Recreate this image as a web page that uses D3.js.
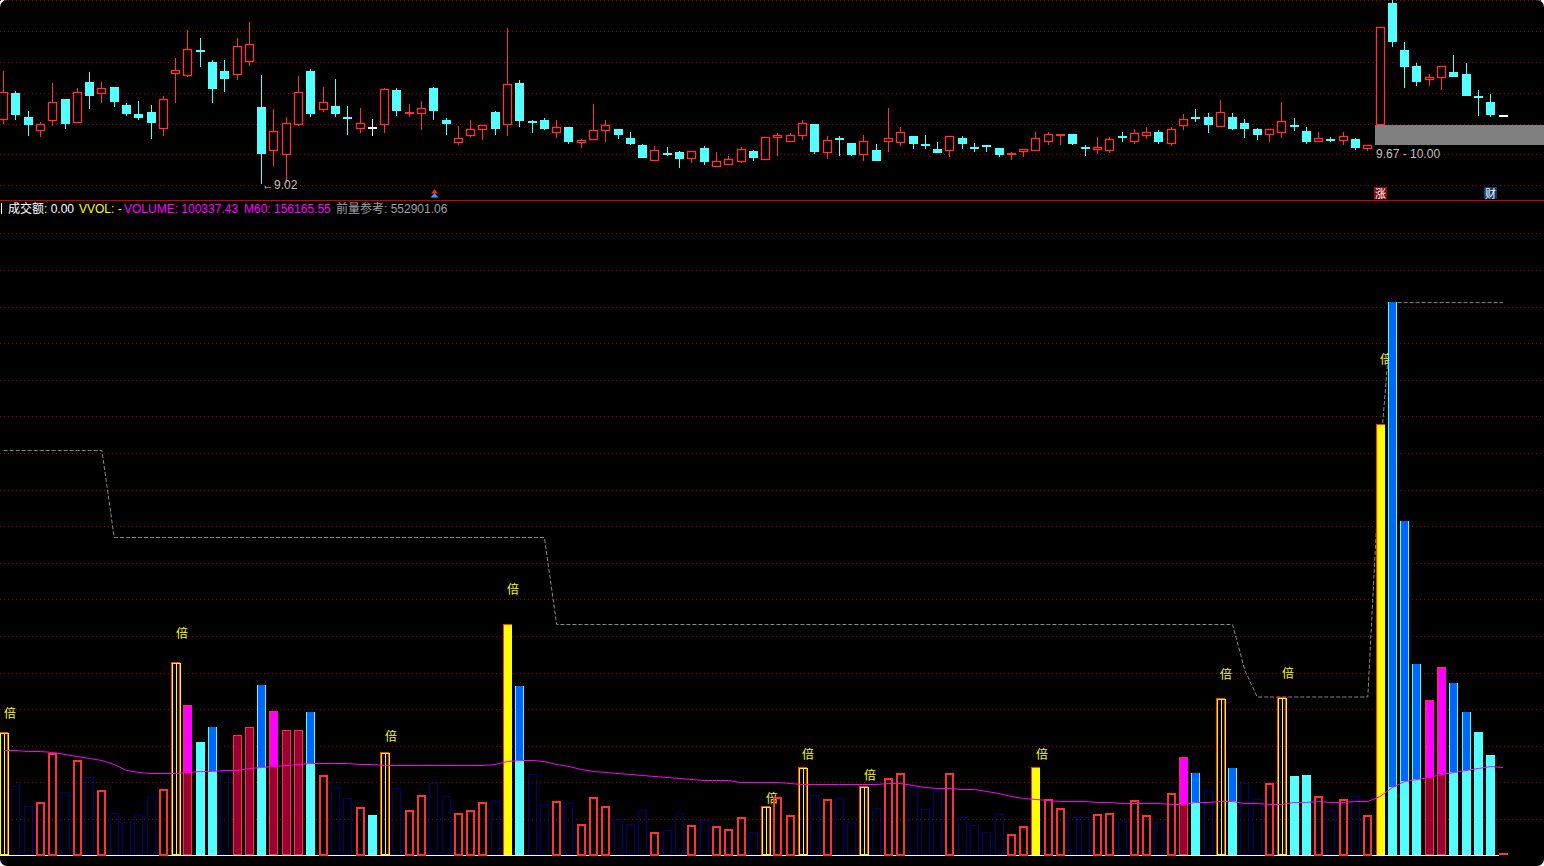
<!DOCTYPE html>
<html><head><meta charset="utf-8">
<script src="https://cdn.jsdelivr.net/npm/d3@7"></script>
<style>
html,body{margin:0;padding:0;background:#fff;overflow:hidden}
svg{display:block}
text{font-family:"Liberation Sans","Noto Sans CJK SC",sans-serif}
</style></head><body>
<svg id="c" width="1544" height="866"></svg>
<script>
// ---------- DATA ----------
const opens = [10.08,10.53,10.13,9.90,10.07,10.44,10.04,10.71,10.51,10.63,
10.34,10.18,10.22,9.93,10.84,10.82,11.25,11.05,10.89,10.83,
11.05,10.30,9.56,9.51,10.00,10.90,10.25,10.31,10.13,9.93,
9.96,10.00,10.58,10.18,10.18,10.61,10.08,9.70,9.81,9.92,
10.22,10.00,10.70,10.07,10.08,9.86,9.97,9.70,9.75,9.90,
9.93,9.78,9.67,9.40,9.54,9.55,9.43,9.62,9.30,9.34,
9.39,9.57,9.42,9.78,9.72,9.81,10.02,9.54,9.79,9.70,
9.51,9.58,9.72,9.70,9.82,9.69,9.60,9.57,9.78,9.64,
9.66,9.62,9.51,9.55,9.57,9.72,9.81,9.85,9.64,9.59,
9.57,9.81,9.72,9.82,9.88,9.68,9.99,10.14,10.13,9.96,
10.13,10.03,9.94,9.84,9.86,10.00,9.90,9.71,9.77,9.74,
9.77,9.60,10.00,12.03,11.25,10.98,10.74,10.78,10.88,10.85,
10.48,10.38,10.17];
const highs = [10.90,10.57,10.23,10.05,10.69,10.44,10.61,10.88,10.71,10.63,
10.36,10.40,10.33,10.49,11.12,11.58,11.45,11.08,11.08,11.45,
11.71,10.83,10.27,10.13,10.81,10.93,10.63,10.76,10.32,10.28,
10.10,10.61,10.61,10.35,10.40,10.63,10.12,9.98,10.08,10.00,
10.23,11.61,10.75,10.08,10.12,10.08,9.97,9.76,10.35,10.08,
9.93,9.88,9.68,9.65,9.63,9.57,9.57,9.65,9.55,9.49,
9.64,9.58,9.80,9.87,9.87,10.08,10.02,9.81,9.81,9.70,
9.83,9.68,10.29,9.97,9.82,9.83,9.72,9.81,9.81,9.70,
9.67,9.62,9.55,9.60,9.88,9.88,9.85,9.85,9.67,9.80,
9.80,9.88,9.94,9.97,9.91,9.97,10.18,10.27,10.20,10.42,
10.20,10.10,9.95,9.93,10.38,10.12,9.97,9.88,9.80,9.88,
9.79,9.67,11.63,12.12,11.38,11.03,10.85,10.98,11.16,11.03,
10.58,10.51,10.17];
const lows = [10.02,10.09,9.82,9.80,9.98,9.93,10.04,10.27,10.36,10.30,
10.15,10.09,9.77,9.81,10.37,10.79,10.97,10.37,10.55,10.75,
10.98,9.02,9.32,9.04,9.98,10.14,10.22,10.13,9.84,9.87,
9.81,9.87,10.15,10.14,9.92,10.09,9.83,9.67,9.80,9.75,
9.83,9.82,9.97,9.87,9.92,9.79,9.68,9.61,9.75,9.72,
9.77,9.67,9.46,9.40,9.49,9.29,9.37,9.34,9.30,9.34,
9.37,9.40,9.42,9.49,9.72,9.75,9.52,9.44,9.49,9.49,
9.40,9.40,9.55,9.65,9.60,9.60,9.53,9.47,9.60,9.55,
9.55,9.47,9.42,9.47,9.56,9.66,9.66,9.66,9.49,9.52,
9.54,9.71,9.69,9.77,9.68,9.65,9.92,10.05,9.87,9.96,
9.92,9.79,9.75,9.71,9.78,9.90,9.68,9.71,9.71,9.66,
9.58,9.56,10.00,11.30,10.61,10.65,10.65,10.58,10.80,10.49,
10.15,10.14,10.17];
const closes = [10.54,10.17,10.00,10.02,10.39,10.02,10.54,10.48,10.62,10.39,
10.19,10.12,10.04,10.44,10.91,11.26,11.22,10.59,10.77,11.31,
11.35,9.52,9.90,10.03,10.54,10.18,10.39,10.18,10.10,10.03,
9.96,10.59,10.24,10.22,10.28,10.24,10.01,9.78,9.94,10.00,
9.93,10.68,10.07,10.03,9.94,9.96,9.71,9.75,9.92,10.00,
9.84,9.68,9.46,9.59,9.53,9.44,9.57,9.39,9.40,9.44,
9.60,9.46,9.80,9.84,9.83,10.03,9.55,9.75,9.76,9.50,
9.73,9.40,9.78,9.88,9.68,9.66,9.53,9.81,9.68,9.62,
9.63,9.50,9.53,9.60,9.78,9.85,9.85,9.68,9.61,9.63,
9.76,9.78,9.87,9.88,9.71,9.93,10.10,10.12,10.00,10.22,
9.93,9.94,9.84,9.93,10.06,9.96,9.72,9.79,9.75,9.82,
9.61,9.66,11.63,11.38,10.97,10.72,10.79,10.98,10.80,10.49,
10.46,10.17,10.17];
const volumes = [123000,69000,49000,53000,102000,63000,95000,78000,65000,42000,
33000,40000,58000,66000,193000,150000,113000,128000,84000,120000,
128000,170000,144000,125000,125000,143000,80000,68000,57000,48000,
40000,103000,67000,45000,60000,72000,59000,42000,45000,53000,
54000,231000,169000,81000,51000,54000,52000,31000,58000,49000,
36000,31000,45000,23000,25000,42000,30000,35000,29000,26000,
38000,23000,49000,58000,40000,88000,60000,56000,57000,33000,
69000,47000,77000,82000,68000,46000,64000,82000,38000,30000,
23000,41000,21000,29000,88000,56000,47000,38000,38000,41000,
42000,34000,55000,40000,33000,62000,98000,82000,65000,157000,
87000,72000,56000,72000,158500,79000,80000,59000,44000,56000,
59000,40000,431000,552901,334000,191000,155000,188000,172000,143000,
123000,100337,2000];
const ma60 = [106000,105500,105000,104500,103000,102000,100000,98000,95500,92000,
86000,84000,82500,82500,83000,84000,84500,84500,85500,86000,
87000,88500,90000,91000,92000,92500,93000,93000,93000,92000,
91500,91000,91000,91000,91000,91000,91000,91000,91000,91000,
91500,94500,95500,95700,95000,92000,89300,86700,84500,83500,
82700,82000,81000,80000,79000,77500,76500,75700,75700,75500,
74000,73700,73700,73500,72700,72000,72000,72000,72000,72000,
72000,72000,72700,72500,71000,69000,68000,67700,66700,66500,
64700,62700,59500,58000,57000,55700,54700,54700,54700,53700,
53700,52700,52700,52700,52700,52000,52000,53700,53700,55000,
55000,53000,53000,51700,51700,53700,53700,54500,54000,53700,
54700,54700,60000,68300,74700,76700,79000,82000,84000,86000,
88000,89300,88700];
const refVol = [405000,405000,405000,405000,405000,405000,405000,405000,405000,318000,
318000,318000,318000,318000,318000,318000,318000,318000,318000,318000,
318000,318000,318000,318000,318000,318000,318000,318000,318000,318000,
318000,318000,318000,318000,318000,318000,318000,318000,318000,318000,
318000,318000,318000,318000,318000,231000,231000,231000,231000,231000,
231000,231000,231000,231000,231000,231000,231000,231000,231000,231000,
231000,231000,231000,231000,231000,231000,231000,231000,231000,231000,
231000,231000,231000,231000,231000,231000,231000,231000,231000,231000,
231000,231000,231000,231000,231000,231000,231000,231000,231000,231000,
231000,231000,231000,231000,231000,231000,231000,231000,231000,231000,
231000,185000,158500,158500,158500,158500,158500,158500,158500,158500,
158500,158500,400000,552901,552901,552901,552901,552901,552901,552901,
552901,552901,552901];
// volume signal: n = normal, s = strong, d = double volume, D = double volume (strong)
const volSignal = ("dnnnnnnnnn"+"nnnndsssns"+"ssssssnnnn"+"sdnnnnnnnn"+"nDsnnnnnnn"+
  "nnnnnnnnnn"+"nndnndnnnn"+"dnnnnnnnnn"+"nnnnDnnnnn"+"nnnnnnssnd"+
  "snnndssnnn"+"nnDsssssss"+"ssn").split("");
const flagMarks = [{i:112, text:"涨", kind:"limit"}, {i:121, text:"财", kind:"fin"}];
const arrowMarks = [35];
const gapFrom = 112; // gap band between highs[111] and lows[112]
const headerItems = [
  {label:"成交额", value:"0.00", kind:"amt"},
  {label:"VVOL", value:"-", kind:"vvol"},
  {label:"VOLUME", value:"100337.43", kind:"vol"},
  {label:"M60", value:"156165.55", kind:"ma"},
  {label:"前量参考", value:"552901.06", kind:"ref"}
];

// ---------- DRAW ----------
const svg = d3.select("#c");
const Wd = 1544, Ht = 866;
const RED = "#ff3232", CYAN = "#54ffff", BLUE = "#0066ff", DBLUE = "#0000ff",
      MAG = "#ff00ff", DRED = "#990033", YEL = "#ffff00", GRID = "#a00000";

svg.append("rect").attr("width", Wd).attr("height", Ht).attr("rx", 7).attr("fill", "#000");

const n = opens.length;
const x = d3.scaleLinear().domain([0, n - 1]).range([3.6, 1503.0]);
const yP = d3.scaleLinear().domain([9.02, 10.00]).range([184, 125]);
const yV = d3.scaleLinear().domain([0, 622200]).range([855.5, 233.3]);
const BW = 9;
const bx = i => Math.round(x(i) - BW / 2);

const defs = svg.append("defs");
defs.append("clipPath").attr("id", "topclip").append("rect").attr("x", 0).attr("y", 0).attr("width", Wd).attr("height", 200);

// grid lines top
const gTop = svg.append("g").attr("clip-path", "url(#topclip)");
d3.range(7).forEach(k => {
  const y = Math.round(0.3 + 30.8 * k) + 0.5;
  gTop.append("line").attr("x1", 0).attr("x2", Wd).attr("y1", y).attr("y2", y)
    .attr("stroke", GRID).attr("stroke-dasharray", "1,3");
});
// grid lines bottom
const gBot = svg.append("g");
d3.range(1, 18).forEach(k => {
  const y = Math.round(yV(k * 36600)) + 0.5;
  gBot.append("line").attr("x1", 0).attr("x2", Wd).attr("y1", y).attr("y2", y)
    .attr("stroke", GRID).attr("stroke-dasharray", "1,3");
});

// separator
svg.append("line").attr("x1", 0).attr("x2", Wd).attr("y1", 200.5).attr("y2", 200.5)
  .attr("stroke", "#d00000").attr("stroke-width", 1);

// gap band
const gapLo = highs[gapFrom - 1], gapHi = lows[gapFrom];
const gy1 = Math.round(yP(gapHi)), gy2 = Math.round(yP(gapLo));
gTop.append("rect").attr("x", bx(gapFrom) - 1).attr("y", gy1).attr("width", Wd - bx(gapFrom) + 1)
  .attr("height", gy2 - gy1).attr("fill", "#808080");
gTop.append("text").attr("x", bx(gapFrom)).attr("y", gy2 + 13).attr("fill", "#c0c0c0")
  .attr("font-size", 12).text(gapLo.toFixed(2) + " - " + gapHi.toFixed(2));

// candles
const isUp = i => closes[i] > opens[i] || (closes[i] === opens[i] && (i === 0 || closes[i] >= closes[i - 1]));
for (let i = 0; i < n; i++) {
  const l = bx(i), cxp = l + 4.5;
  const yo = Math.round(yP(opens[i])), yc = Math.round(yP(closes[i]));
  const yh = Math.round(yP(highs[i])), yl = Math.round(yP(lows[i]));
  const g = gTop.append("g");
  if (closes[i] > opens[i]) {
    g.append("line").attr("x1", cxp).attr("x2", cxp).attr("y1", yh).attr("y2", yc).attr("stroke", RED);
    g.append("line").attr("x1", cxp).attr("x2", cxp).attr("y1", yo).attr("y2", yl).attr("stroke", RED);
    if (yo - yc >= 3) {
      g.append("rect").attr("x", l + 0.5).attr("y", yc + 0.5).attr("width", BW - 1).attr("height", yo - yc - 1)
        .attr("fill", "#000").attr("stroke", RED).attr("stroke-width", 1.3);
    } else {
      g.append("rect").attr("x", l).attr("y", yc).attr("width", BW).attr("height", Math.max(2, yo - yc)).attr("fill", RED);
    }
  } else if (closes[i] < opens[i]) {
    g.append("line").attr("x1", cxp).attr("x2", cxp).attr("y1", yh).attr("y2", yl).attr("stroke", CYAN);
    g.append("rect").attr("x", l).attr("y", yo).attr("width", BW).attr("height", Math.max(2, yc - yo)).attr("fill", CYAN);
  } else {
    if (yl > yh) g.append("line").attr("x1", cxp).attr("x2", cxp).attr("y1", yh).attr("y2", yl).attr("stroke", "#fff");
    g.append("rect").attr("x", l).attr("y", yo).attr("width", BW).attr("height", 2).attr("fill", "#fff");
  }
}

// lowest price annotation
const iLow = d3.minIndex(lows);
gTop.append("text").attr("x", Math.round(x(iLow))).attr("y", yP(lows[iLow]) + 5)
  .attr("fill", "#c0c0c0").attr("font-size", 12).text("\u2190" + lows[iLow].toFixed(2));

// flag marks
flagMarks.forEach(f => {
  const l = bx(f.i) - 2;
  svg.append("rect").attr("x", l).attr("y", 187).attr("width", 13).attr("height", 12)
    .attr("fill", f.kind === "limit" ? "#8c0a0a" : "#0d3b78");
  svg.append("text").attr("x", l + 6.5).attr("y", 197.5).attr("text-anchor", "middle")
    .attr("fill", "#fff").attr("font-size", 11).text(f.text);
});
arrowMarks.forEach(i => {
  const c = Math.round(x(i)) + 0.5;
  svg.append("path").attr("d", `M${c - 3.5},193.5L${c},189L${c + 3.5},193.5Z`).attr("fill", "#ff2020");
  svg.append("path").attr("d", `M${c - 4},197.5L${c},193L${c + 4},197.5Z`).attr("fill", "#2aa8ff");
});

// header
const hx = [8, 79, 124, 244, 336];
const hcol = {amt: "#ffffff", vvol: YEL, vol: MAG, ma: MAG, ref: "#a0a0a0"};
svg.append("line").attr("x1", 1.5).attr("x2", 1.5).attr("y1", 203).attr("y2", 214).attr("stroke", "#fff");
headerItems.forEach((h, k) => {
  svg.append("text").attr("x", hx[k]).attr("y", 213).attr("font-size", 12)
    .attr("fill", hcol[h.kind]).text(h.label + ": " + h.value);
});

// baseline
svg.append("line").attr("x1", 0).attr("x2", bx(n - 1)).attr("y1", 855.5).attr("y2", 855.5).attr("stroke", "#fff");

// reference dashed line
svg.append("path").datum(refVol)
  .attr("d", d3.line().x((d, i) => x(i)).y(d => yV(d)))
  .attr("fill", "none").attr("stroke", "#8a8a8a").attr("stroke-dasharray", "4,2");

// volume bars
const gV = svg.append("g");
const bot = 855;
volumes.forEach((v, i) => {
  const l = bx(i), top = Math.floor(yV(v));
  const up = isUp(i), s = volSignal[i];
  const h = bot - top;
  const hollow = (col, dash, sw) => {
    if (h <= 2) {
      gV.append("rect").attr("x", l).attr("y", top).attr("width", BW).attr("height", Math.max(h, 1)).attr("fill", col);
      return;
    }
    let r;
    if (sw === 2) {
      r = gV.append("rect").attr("x", l + 1).attr("y", top + 1).attr("width", BW - 2).attr("height", h - 1)
        .attr("fill", "none").attr("stroke", col).attr("stroke-width", 2);
    } else {
      r = gV.append("rect").attr("x", l + 0.5).attr("y", top + 0.5).attr("width", BW - 1).attr("height", h - 1)
        .attr("fill", "none").attr("stroke", col);
    }
    if (dash) r.attr("stroke-dasharray", dash);
  };
  if (s === "n") {
    if (up) hollow(RED, null, 2); else hollow(DBLUE, "1,1", 1);
  } else if (s === "s") {
    const ym = Math.round(yV(ma60[i]));
    const hot = v > 1.5 * ma60[i];
    if (up) {
      gV.append("rect").attr("x", l + 0.5).attr("y", top + 0.5).attr("width", BW - 1).attr("height", h - 1)
        .attr("fill", DRED).attr("stroke", RED);
      if (hot) gV.append("rect").attr("x", l + 1).attr("y", top + 1).attr("width", BW - 1).attr("height", ym - top - 1).attr("fill", MAG);
    } else {
      gV.append("rect").attr("x", l).attr("y", top).attr("width", BW).attr("height", h).attr("fill", CYAN);
      if (hot) gV.append("rect").attr("x", l + 1).attr("y", top).attr("width", BW - 2).attr("height", ym - top).attr("fill", BLUE);
    }
  } else if (s === "d") {
    hollow(RED, null, 1);
    gV.append("rect").attr("x", l + 1.5).attr("y", top + 1.5).attr("width", BW - 1).attr("height", h - 2)
      .attr("fill", "none").attr("stroke", YEL);
    gV.append("line").attr("x1", l + 5.5).attr("x2", l + 5.5).attr("y1", top + 1).attr("y2", bot).attr("stroke", YEL);
  } else if (s === "D") {
    hollow(RED, null, 1);
    gV.append("rect").attr("x", l + 1).attr("y", top + 1).attr("width", BW - 1).attr("height", h - 1).attr("fill", YEL);
  }
  if (s === "d" || s === "D") {
    gV.append("text").attr("x", Math.round(x(i))).attr("y", yV(v * 1.15)).attr("dy", "0.36em")
      .attr("fill", YEL).attr("font-size", 12).attr("font-family", "Noto Sans CJK SC").text("倍");
  }
});

// MA60 line
svg.append("path").datum(ma60)
  .attr("d", d3.line().x((d, i) => x(i)).y(d => Math.round(yV(d)) + 0.5))
  .attr("fill", "none").attr("stroke", MAG).attr("stroke-width", 1);
</script>
</body></html>
